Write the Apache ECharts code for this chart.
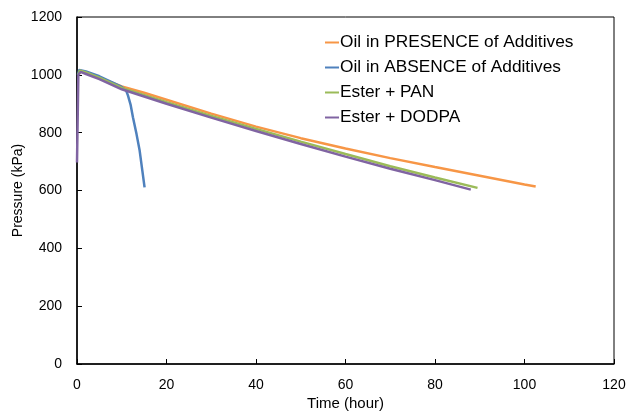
<!DOCTYPE html>
<html>
<head>
<meta charset="utf-8">
<script src="https://cdn.jsdelivr.net/npm/echarts@6/dist/echarts.min.js"></script>
<style>
  html, body { margin: 0; padding: 0; background: #fff; }
  #chart { width: 627px; height: 412px; }
</style>
</head>
<body>
<div id="chart"></div>
<script>
// [time (hour), pressure (kPa)]
const oilPresence = [[0.5, 1005], [1, 1012], [5, 990], [10, 960], [15, 938], [20, 914], [30, 866], [40, 821], [50, 781], [60, 745], [70, 712], [80, 681], [90, 651], [100, 621], [102.5, 614]];
const oilAbsence = [[0.2, 1000], [0.5, 1017], [2, 1012], [5, 995], [8, 973], [10, 958], [11, 945], [11.4, 928], [12, 895], [12.5, 853], [13.3, 795], [14, 738], [14.6, 669], [15.1, 611]];
const esterPan = [[0.3, 1000], [0.6, 1015], [2, 1008], [5, 990], [10, 955], [20, 905], [30, 858], [40, 813], [50, 769], [60, 726], [70, 684], [80, 645], [89.5, 609]];
const esterDodpa = [[0, 697], [0.3, 1000], [0.8, 1010], [2, 1003], [5, 985], [10, 950], [20, 900], [30, 852], [40, 806], [50, 761], [60, 717], [70, 675], [80, 636], [88, 603]];

const seriesNames = ["Oil in PRESENCE of Additives", "Oil in ABSENCE of Additives", "Ester + PAN", "Ester + DODPA"];
const seriesColors = ["#F79646", "#4F81BD", "#9BBB59", "#8064A2"];
const seriesData = [oilPresence, oilAbsence, esterPan, esterDodpa];

const font = "Liberation Sans, Arial, sans-serif";

const chart = echarts.init(document.getElementById("chart"));

const option = {
  animation: false,
  textStyle: { fontFamily: font },
  grid: {
    left: 77, right: 13, top: 17, bottom: 48,
    outerBoundsMode: "none",
    containLabel: false,
    show: true, borderColor: "#000", borderWidth: 1
  },
  legend: {
    orient: "vertical",
    left: 320, top: 29,
    itemGap: 8,
    itemWidth: 14, itemHeight: 2,
    icon: "rect",
    textStyle: { fontSize: 17.3, color: "#000", fontFamily: font, padding: [0, 0, 0, -4] },
    data: seriesNames
  },
  xAxis: {
    type: "value",
    min: 0, max: 120, interval: 20,
    name: "Time (hour)",
    nameLocation: "middle",
    nameGap: 32,
    nameMoveOverlap: false,
    nameTextStyle: { fontSize: 15, color: "#000" },
    axisLine: { lineStyle: { color: "#000", width: 1.5 } },
    axisTick: { inside: true, length: 5, lineStyle: { color: "#000" } },
    axisLabel: { fontSize: 14, color: "#000", margin: 14 },
    splitLine: { show: false }
  },
  yAxis: {
    type: "value",
    min: 0, max: 1200, interval: 200,
    name: "Pressure (kPa)",
    nameLocation: "middle",
    nameGap: 52,
    nameMoveOverlap: false,
    nameTextStyle: { fontSize: 14, color: "#000" },
    axisLine: { show: true, lineStyle: { color: "#000", width: 1.5 } },
    axisTick: { show: true, inside: true, length: 5, lineStyle: { color: "#000" } },
    axisLabel: { fontSize: 14, color: "#000", margin: 15, formatter: v => String(v) },
    splitLine: { show: false }
  },
  series: seriesData.map((d, i) => ({
    name: seriesNames[i],
    type: "line",
    data: d,
    showSymbol: false,
    symbol: "none",
    color: seriesColors[i],
    lineStyle: { width: 2.5, color: seriesColors[i] }
  }))
};

chart.setOption(option);
</script>
</body>
</html>
